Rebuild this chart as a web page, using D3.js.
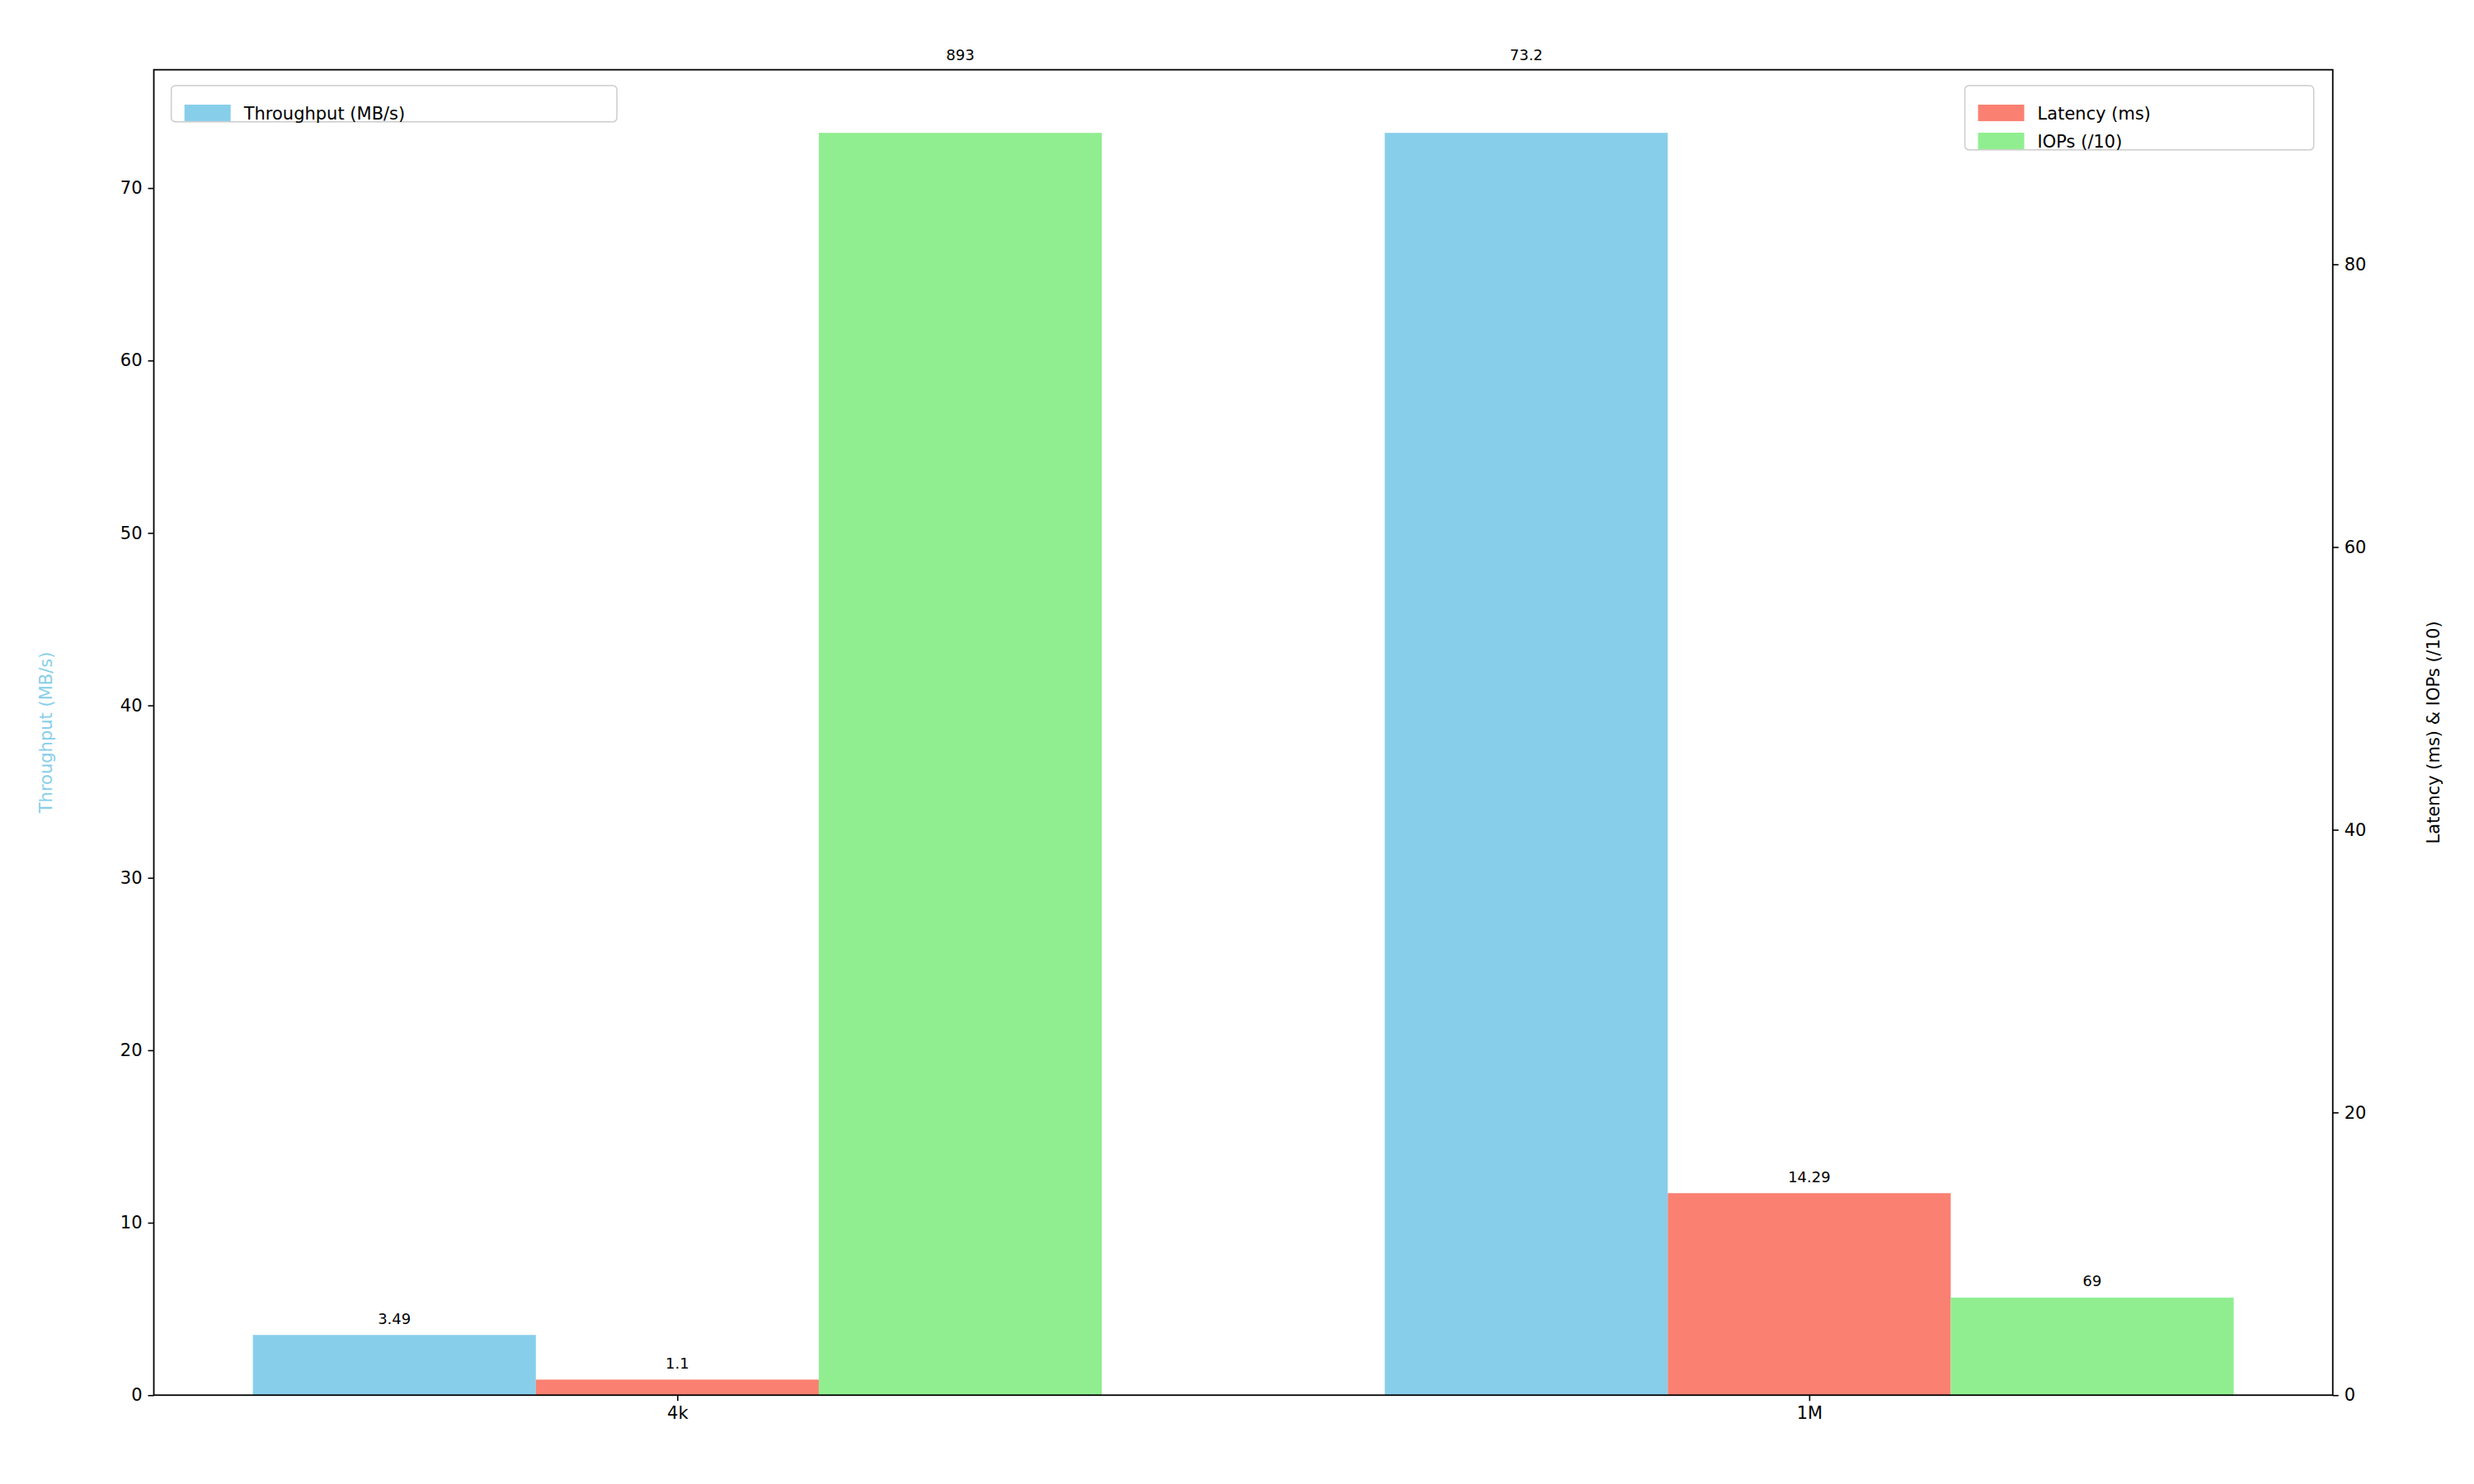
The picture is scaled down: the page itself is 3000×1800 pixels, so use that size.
<!DOCTYPE html>
<html><head><meta charset="utf-8">
<script src="https://cdn.jsdelivr.net/npm/d3@7"></script>
<style>body{margin:0;background:#fff}text{font-family:"DejaVu Sans",sans-serif}</style>
</head><body><svg id="c" width="3000" height="1800"></svg>
<script>
const categories = ["4k","1M"];
const throughput = [3.49, 73.2];
const latency = [1.1, 14.29];
const iops = [893, 69];
const leftTicks = [0,10,20,30,40,50,60,70];
const rightTicks = [0,20,40,60,80];
const colors = {tp:"#87CEEB", lat:"#FA8072", iops:"#90EE90"};

const s = 1.923;
const svg = d3.select("#c");
const L = 97*s, R = 1471*s, T = 44*s, B = 880*s;
const iopsScaled = iops.map(v => v/10);
const x = d3.scaleLinear().domain([-0.4625, 1.4625]).range([L, R]);
const yL = d3.scaleLinear().domain([0, d3.max(throughput)*1.05]).range([B, T]);
const yR = d3.scaleLinear().domain([0, d3.max(latency.concat(iopsScaled))*1.05]).range([B, T]);
const w = 0.25;
const series = [
  {vals: throughput, lab: throughput.map(String), sc: yL, c: colors.tp, off: -w},
  {vals: latency, lab: latency.map(String), sc: yR, c: colors.lat, off: 0},
  {vals: iopsScaled, lab: iops.map(String), sc: yR, c: colors.iops, off: w}
];
series.forEach(sr => {
  sr.vals.forEach((v, i) => {
    const x0 = x(i + sr.off - w/2), x1 = x(i + sr.off + w/2);
    svg.append("rect").attr("x", x0).attr("width", x1 - x0)
      .attr("y", sr.sc(v)).attr("height", B - sr.sc(v)).attr("fill", sr.c);
    let ty = sr.sc(v) - 7*s;
    if (sr.sc(v) - T < 60*s) ty = T - 6*s;
    svg.append("text").attr("x", (x0 + x1)/2).attr("y", ty).attr("text-anchor","middle")
      .attr("font-size", 18).text(sr.lab[i]);
  });
});
const fs = 21;
const ax = svg.append("g").attr("transform", `translate(0,${B})`)
  .call(d3.axisBottom(x).tickValues([0,1]).tickFormat(i => categories[i]).tickSize(7).tickPadding(7));
const al = svg.append("g").attr("transform", `translate(${L},0)`)
  .call(d3.axisLeft(yL).tickValues(leftTicks).tickSize(7).tickPadding(7));
const ar = svg.append("g").attr("transform", `translate(${R},0)`)
  .call(d3.axisRight(yR).tickValues(rightTicks).tickSize(7).tickPadding(7));
[ax, al, ar].forEach(g => { g.selectAll("text").attr("font-size", fs).attr("fill","#000"); g.select(".domain").remove(); g.selectAll("line").attr("stroke","#000").attr("stroke-width",1.6); });
svg.append("rect").attr("x", L).attr("y", T).attr("width", R-L).attr("height", B-T)
  .attr("fill","none").attr("stroke","#000").attr("stroke-width",1.8);
svg.append("text").attr("transform", `translate(${33*s},${(T+B)/2}) rotate(-90)`).attr("text-anchor","middle")
  .attr("font-size", fs).attr("fill", colors.tp).text("Throughput (MB/s)");
svg.append("text").attr("transform", `translate(${1538*s},${(T+B)/2}) rotate(-90)`).attr("text-anchor","middle")
  .attr("font-size", fs).attr("fill", "#000").text("Latency (ms) & IOPs (/10)");
function legend(x0, y0, wdt, items) {
  const g = svg.append("g");
  g.append("rect").attr("x", x0).attr("y", y0).attr("width", wdt).attr("height", (items.length*34+10)*s/1.923*1.0 + 0).attr("rx", 5)
    .attr("fill","#fff").attr("fill-opacity",0.8).attr("stroke","#ccc").attr("stroke-width",1.5);
  items.forEach((it, k) => {
    const yy = y0 + 12*s + k*34*s/1.923*1.0;
    g.append("rect").attr("x", x0 + 16).attr("y", yy).attr("width", 56).attr("height", 20).attr("fill", it.c);
    g.append("text").attr("x", x0 + 88).attr("y", yy + 18).attr("font-size", fs).text(it.t);
  });
}
legend(108*s, 54*s, 281*s, [{c: colors.tp, t: "Throughput (MB/s)"}]);
legend(1239*s, 54*s, 220*s, [{c: colors.lat, t: "Latency (ms)"}, {c: colors.iops, t: "IOPs (/10)"}]);
</script></body></html>
